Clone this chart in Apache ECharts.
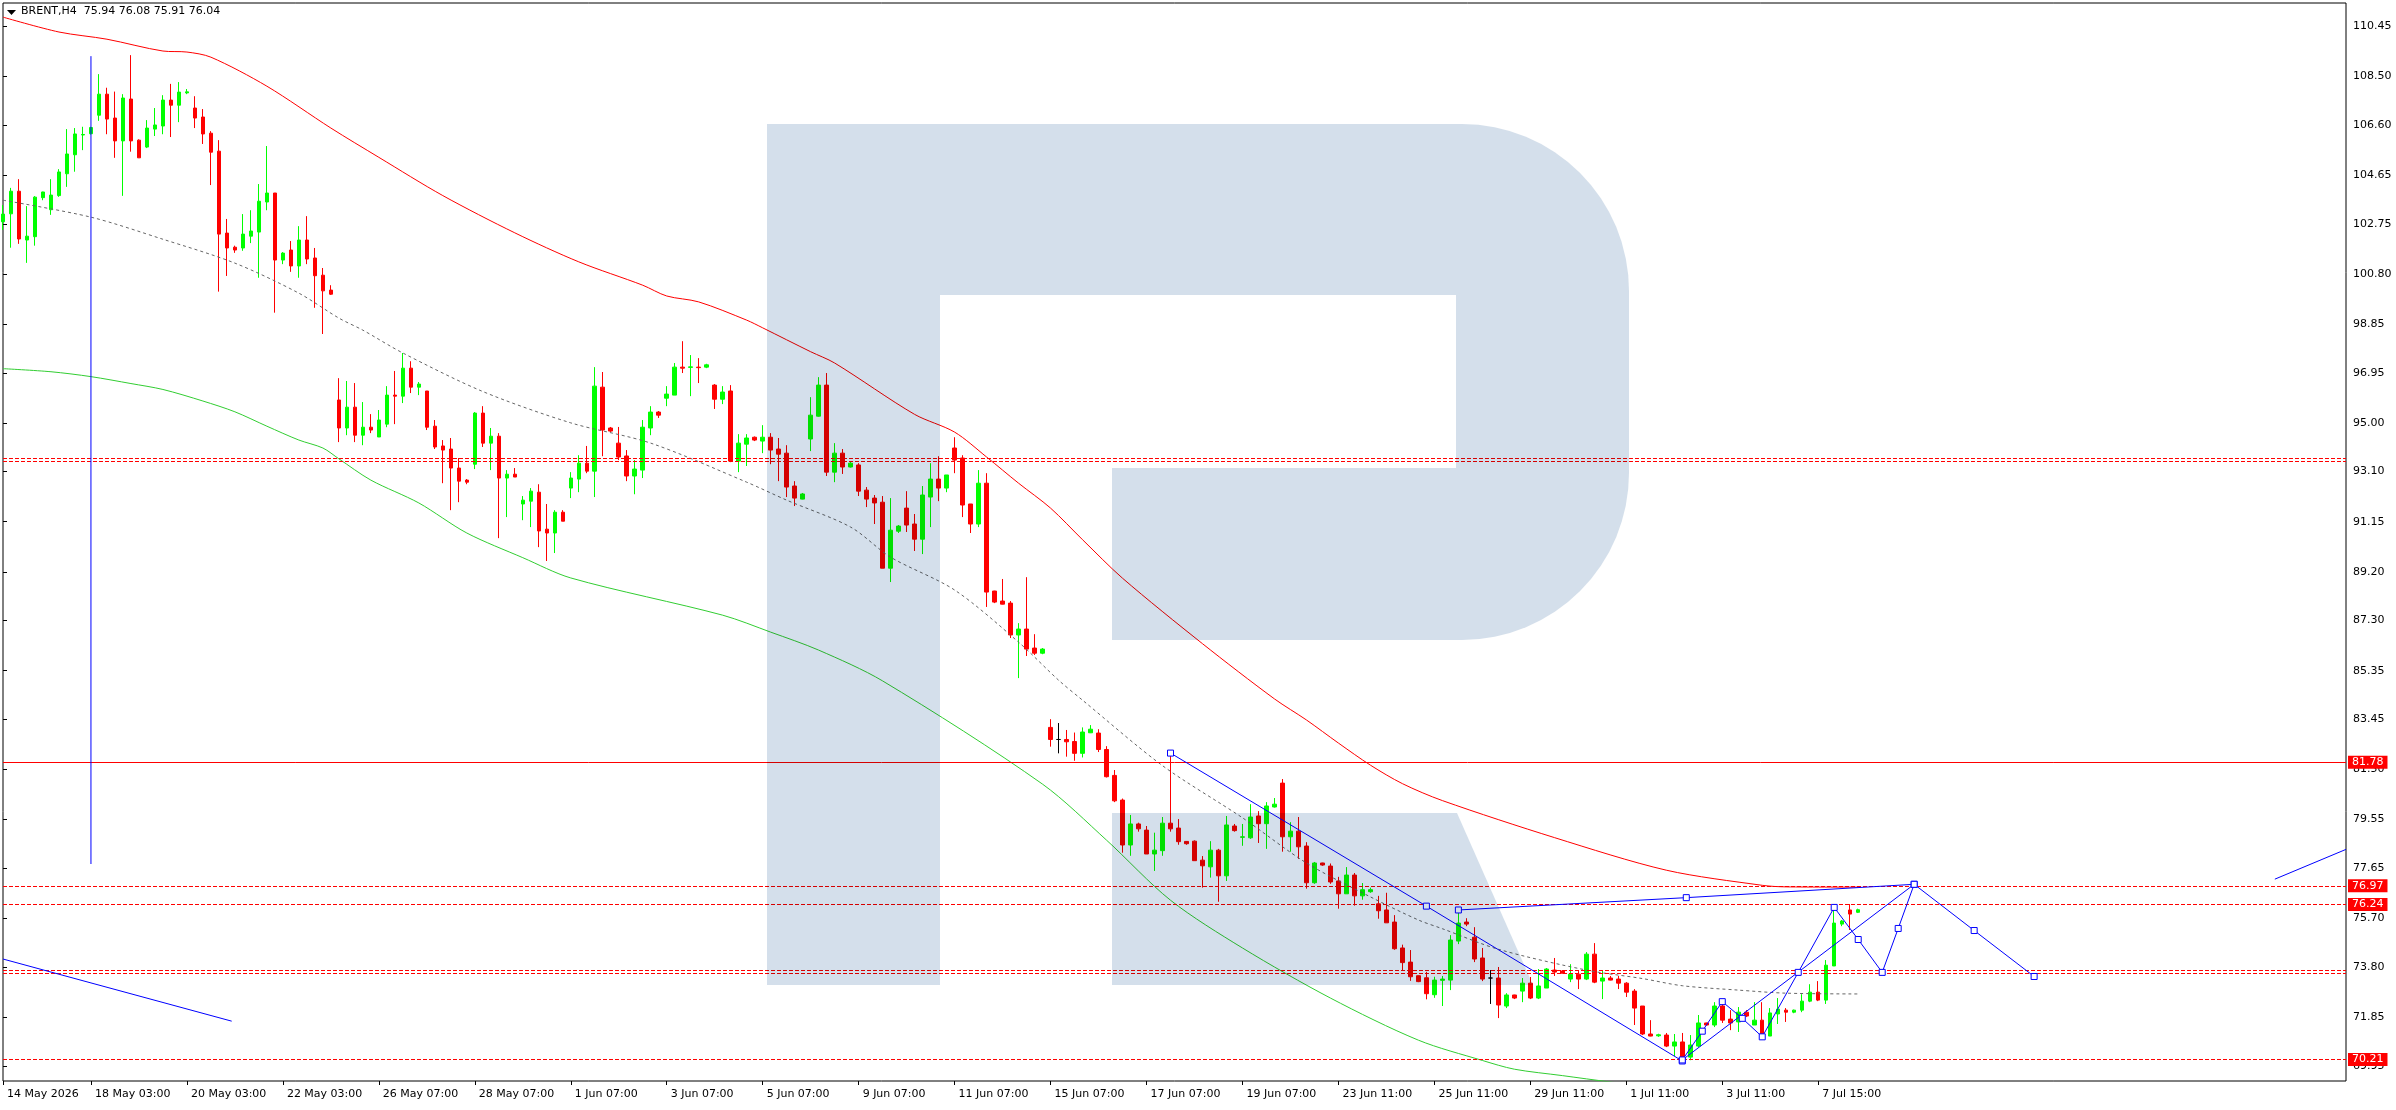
<!DOCTYPE html>
<html lang="en">
<head>
  <meta charset="UTF-8">
  <title>BRENT H4</title>
  <script src="https://cdn.jsdelivr.net/npm/echarts@6.0.0/dist/echarts.min.js"></script>
  <style>
    html, body { margin: 0; padding: 0; background: #fff; }
    #chart { width: 2396px; height: 1110px; }
  </style>
</head>
<body>
  <div id="chart"></div>
  <script>
    // H4 bars, index 0 = 14 May 07:00 ... 232 = 8 Jul 11:00
    let open = [102.83,103.14,104.02,102.12,102.25,103.77,103.30,103.85,104.70,105.44,106.21,106.26,106.98,107.80,106.87,105.98,107.61,106.01,105.74,106.44,
      106.56,107.57,107.37,107.85,107.26,106.91,106.28,105.58,102.39,101.84,101.81,102.27,102.43,103.60,103.95,101.34,101.73,101.11,102.12,101.42,
      100.75,100.17,95.89,94.80,95.61,94.52,94.83,94.45,94.95,96.08,96.04,97.13,96.39,96.24,94.87,94.10,93.98,93.24,92.77,93.39,
      95.38,94.21,94.48,92.85,93.00,91.84,91.95,92.30,90.86,90.71,91.52,92.46,92.81,93.43,93.12,96.39,94.80,94.21,93.71,92.93,
      93.16,94.80,95.42,95.96,96.08,97.17,97.16,97.17,97.17,96.47,95.92,96.24,93.51,94.17,94.44,94.29,94.44,93.98,93.82,92.54,
      92.03,94.37,95.26,96.47,93.08,93.82,93.28,93.36,92.38,92.07,91.91,89.34,90.78,91.68,91.06,90.47,92.11,92.81,92.46,94.02,
      93.63,91.84,91.06,92.65,88.45,88.06,87.98,86.74,86.97,86.23,86.03,83.14,82.67,82.67,82.59,82.13,82.93,82.92,82.28,81.27,
      80.31,78.56,79.38,79.14,78.21,78.34,79.41,79.22,78.70,78.71,77.97,77.71,78.36,77.36,79.30,78.86,78.84,79.69,79.39,80.04,
      80.97,78.88,79.10,78.52,77.09,77.86,77.74,77.16,76.66,77.39,76.58,76.74,76.27,76.03,75.56,74.55,74.00,73.47,73.39,72.73,
      73.29,73.30,74.82,75.56,74.97,74.16,73.38,73.38,72.29,72.72,72.87,73.18,72.60,72.99,73.69,73.65,73.34,73.53,73.34,74.31,
      73.26,73.38,73.34,73.18,72.87,72.29,71.20,71.13,71.16,70.73,70.89,70.30,70.73,71.63,71.55,72.29,71.78,71.67,72.05,71.55,
      71.74,71.12,71.98,72.13,72.05,72.13,72.48,72.83,72.52,73.85,75.48,76.03,75.94];
    let high = [103.48,104.15,104.49,103.44,103.83,104.00,104.49,104.88,106.44,106.48,106.53,106.53,108.58,108.05,107.90,107.80,109.32,106.04,106.79,107.26,
      107.76,108.20,108.27,108.00,107.72,107.22,106.36,106.01,102.94,101.90,103.13,103.28,104.30,105.78,103.95,101.65,102.08,102.66,103.05,101.81,
      101.03,100.36,96.74,96.63,96.55,95.81,95.34,95.50,96.43,97.02,97.72,97.40,96.59,96.24,95.11,94.33,94.41,93.63,92.81,95.42,
      95.65,94.80,94.60,93.16,93.24,92.15,92.46,92.61,91.84,91.60,91.60,93.08,93.74,94.10,97.17,96.98,94.84,94.84,93.94,93.55,
      95.11,95.65,95.46,96.43,97.33,98.18,97.64,97.52,97.30,96.51,96.43,96.47,94.56,94.56,94.47,94.91,94.60,94.41,94.13,92.73,
      92.27,96.00,96.78,96.94,94.21,93.98,93.48,93.43,92.50,92.19,92.15,92.07,91.02,92.34,91.45,92.54,93.43,93.70,92.97,94.44,
      93.74,91.84,93.16,93.04,88.46,88.92,88.06,87.20,88.99,86.77,86.23,83.46,83.31,83.04,82.94,83.14,83.23,83.07,82.41,81.48,
      80.37,79.73,79.43,79.30,79.04,79.65,82.13,79.57,78.71,78.74,78.13,78.71,78.41,79.69,79.38,79.38,80.15,79.88,80.23,80.39,
      81.13,79.45,79.65,78.67,77.90,77.87,77.84,77.32,77.70,77.47,77.08,76.90,76.58,76.70,75.83,74.68,74.47,73.48,73.62,73.43,
      73.46,75.05,76.03,75.71,75.36,74.55,73.69,73.81,72.79,72.73,73.38,73.42,73.73,73.77,74.16,73.69,73.92,73.65,74.39,74.74,
      73.69,73.46,73.46,73.22,72.95,72.29,71.74,71.21,71.24,71.20,71.24,71.16,71.94,71.64,72.44,72.44,72.13,72.25,72.13,72.44,
      72.44,72.21,72.60,72.21,72.15,72.75,73.14,73.26,74.08,76.03,75.64,76.26,76.08];
    let low = [102.51,101.82,101.97,101.23,101.90,103.67,103.10,103.80,104.19,104.78,105.62,106.23,106.76,106.24,105.32,103.84,105.56,105.32,105.70,106.17,
      106.24,106.13,106.71,107.80,106.48,105.86,104.26,100.11,100.72,101.62,101.70,102.00,100.65,103.28,99.29,101.18,100.88,100.65,101.18,99.48,
      98.46,99.98,94.25,94.52,94.25,94.13,94.60,94.45,94.83,94.95,95.77,96.16,96.08,94.72,93.98,92.65,91.60,91.91,92.61,93.20,
      94.06,93.16,90.51,91.33,92.89,91.21,90.94,90.16,89.62,89.93,91.17,92.07,92.30,93.04,92.11,93.70,94.64,93.55,92.73,92.22,
      92.85,94.52,95.19,95.65,96.08,96.94,96.04,96.55,97.13,95.54,95.73,93.47,93.08,93.32,94.29,93.82,93.39,92.73,92.11,91.76,
      92.02,93.90,95.24,92.93,92.69,93.01,93.26,92.15,91.72,91.06,89.34,88.80,90.71,90.75,90.01,89.89,90.94,91.95,92.30,93.04,
      91.33,90.71,90.94,87.83,87.98,87.93,86.62,85.06,85.92,85.96,85.99,82.39,82.13,82.00,81.84,81.97,82.92,82.18,81.19,80.23,
      78.26,78.14,79.08,78.21,77.55,78.14,79.08,78.57,78.57,77.95,76.90,77.29,76.35,77.16,79.08,78.53,78.80,78.64,78.41,80.02,
      78.30,78.30,78.02,76.86,77.05,77.75,77.05,76.08,76.66,76.20,76.43,76.70,75.69,75.53,74.48,73.66,73.27,73.22,72.55,72.61,
      72.29,72.91,74.70,75.40,74.00,73.26,72.37,71.82,72.21,72.56,72.44,72.56,72.56,72.99,73.46,73.56,73.22,72.95,73.30,73.18,
      72.56,73.29,72.95,72.64,71.55,71.16,71.11,71.09,70.69,70.34,70.22,70.18,70.69,71.53,71.47,71.63,71.35,71.28,71.86,71.55,
      71.20,71.12,71.59,71.67,72.01,72.05,72.44,72.48,72.37,73.85,75.40,75.25,75.91];
    let close = [103.13,104.02,102.16,102.27,103.79,103.99,103.87,104.77,105.47,106.25,106.23,106.50,107.80,106.83,105.98,107.65,105.98,105.32,106.48,106.60,
      107.57,107.37,107.88,107.89,106.87,106.25,105.54,102.35,101.81,101.73,102.35,102.47,103.63,103.95,101.34,101.61,101.11,102.12,101.38,100.73,
      100.14,100.01,94.80,95.61,94.52,94.83,94.72,95.11,96.08,96.04,97.13,96.39,96.51,94.83,94.06,93.94,93.24,92.73,92.69,95.38,
      94.21,94.48,92.85,93.00,92.89,91.99,92.34,90.79,90.71,91.52,91.17,92.85,93.43,93.12,96.43,94.72,94.68,93.67,92.93,93.20,
      94.83,95.42,95.30,96.12,97.17,97.13,97.18,97.15,97.26,95.92,96.20,93.51,94.21,94.41,94.33,94.44,93.94,93.78,92.50,92.07,
      92.23,95.30,96.47,93.08,93.82,93.28,93.43,92.34,92.03,91.88,89.34,90.82,90.98,91.02,90.47,92.19,92.81,92.46,92.97,93.55,
      91.80,91.06,92.65,88.41,88.02,87.94,86.74,86.97,86.19,86.03,86.19,82.67,82.67,82.58,82.13,82.96,83.07,82.28,81.22,80.28,
      78.56,79.38,79.19,78.21,78.36,79.41,79.19,78.69,78.61,77.95,77.75,78.36,77.36,79.34,79.12,78.88,79.65,79.39,80.08,80.15,
      78.88,79.10,78.49,77.09,77.86,77.78,77.12,76.66,77.39,76.58,76.82,76.82,76.00,75.53,74.52,73.98,73.43,73.24,72.77,73.30,
      73.34,74.86,75.52,75.48,74.12,73.34,73.38,72.33,72.72,72.60,73.18,72.60,73.07,73.73,73.61,73.57,73.53,73.34,74.31,73.22,
      73.38,73.30,73.18,72.83,72.21,71.20,71.12,71.17,70.73,70.89,70.30,70.77,71.63,71.55,72.29,71.74,71.63,72.05,71.90,71.74,
      71.20,72.02,72.17,72.05,72.13,72.48,72.83,72.52,73.88,75.52,75.60,75.87,76.04];

    // moving averages, read as [bar, price]
    let redMA = [[0,110.80],[7,110.22],[13,109.94],[20,109.48],[23,109.44],[26,109.24],[33,108.11],[41,106.48],[47,105.34],[55,103.85],
      [64,102.40],[72,101.27],[80,100.36],[83,99.94],[87,99.71],[93,99.00],[95,98.70],[101,97.77],[104,97.33],[114,95.33],
      [119,94.64],[123,93.67],[127,92.65],[131,91.68],[135,90.45],[140,88.95],[150,86.40],[159,84.25],[163,83.43],[167,82.53],
      [171,81.67],[175,80.95],[180,80.29],[194,78.85],[208,77.58],[220,76.99],[223,76.93],[232,76.92]];
    let greenMA = [[0,97.11],[6,96.99],[11,96.80],[16,96.53],[20,96.30],[25,95.85],[29,95.43],[33,94.87],[37,94.33],[40,94.02],
      [42,93.60],[46,92.77],[52,91.88],[58,90.71],[65,89.75],[71,88.96],[90,87.51],[96,86.85],[102,86.15],[110,84.95],
      [130,80.93],[138,78.75],[146,76.41],[155,74.55],[166,72.60],[177,70.96],[185,70.17],[189,69.83],[195,69.58],[201,69.33],[207,69.10]];
    let grayMA = [[0,103.67],[11,103.01],[20,102.15],[29,101.22],[37,100.05],[42,99.08],[45,98.61],[50,97.72],[60,96.22],[71,95.00],
      [81,94.21],[93,92.69],[98,91.99],[106,90.94],[111,89.77],[119,88.49],[127,86.46],[132,84.98],[135,84.20],[145,81.65],
      [155,79.62],[163,77.86],[171,76.54],[177,75.64],[180,75.30],[187,74.50],[198,73.69],[205,73.36],[210,73.08],[217,72.91],
      [223,72.79],[232,72.76]];

    // drawn objects
    let vLine = [[11,77.82],[11,109.28]];
    let leftLine = [[0,74.12],[28.6,71.70]];
    let downTrend = [[146,82.14],[178,76.18],[210,70.15]];
    let upperLine = [[182,76.03],[210.5,76.51],[239,77.03]];
    let zigzag = [[210,70.19],[212.5,71.31],[215,72.46],[217.5,71.81],[220,71.09],[224.5,73.60],[229,76.13],[232,74.88],
      [235,73.60],[237,75.31],[239,77.03],[246.5,75.23],[254,73.44]];
    let diagLine = [[210,70.19],[239,77.03]];
    let rightLine = [[284.1,77.23],[293,78.39]];

    let levelPrices = [93.60, 81.78, 76.97, 76.24, 73.63, 70.21];
    let levelKinds = ['double', 'solid', 'dot', 'dot', 'double', 'dot'];
    let lastPrice = 76.04;

    let tickBars = [0, 11, 23, 35, 47, 59, 71, 83, 95, 107, 119, 131, 143, 155, 167, 179, 191, 203, 215, 227];
    let tickLabels = ['14 May 2026', '18 May 03:00', '20 May 03:00', '22 May 03:00', '26 May 07:00', '28 May 07:00', '1 Jun 07:00',
      '3 Jun 07:00', '5 Jun 07:00', '9 Jun 07:00', '11 Jun 07:00', '15 Jun 07:00', '17 Jun 07:00', '19 Jun 07:00', '23 Jun 11:00',
      '25 Jun 11:00', '29 Jun 11:00', '1 Jul 11:00', '3 Jul 11:00', '7 Jul 15:00'];
    let yTicks = [110.45, 108.50, 106.60, 104.65, 102.75, 100.80, 98.85, 96.95, 95.00, 93.10, 91.15, 89.20, 87.30, 85.35, 83.45,
      81.50, 79.55, 77.65, 75.70, 73.80, 71.85, 69.95];
  </script>
  <script>
    let font = 'DejaVu Sans';
    let blue = '#0000ff';
    let logoFill = { fill: '#d4dfeb', blend: 'multiply' };

    let candleData = open.map((o, i) => {
      let item = [i, o, close[i], low[i], high[i]];
      if (o === close[i]) {
        return { value: item, itemStyle: { color: '#000', color0: '#000', borderColor: '#000', borderColor0: '#000' } };
      }
      return item;
    });

    function levelLabel(bg) {
      return {
        show: true, position: 'end', distance: 2,
        formatter: p => p.value.toFixed(2),
        backgroundColor: bg, color: '#fff', fontFamily: font, fontSize: 11,
        lineHeight: 12, padding: [1, 4, 0, 4]
      };
    }

    let marks = [];
    // current price tag (hidden mostly behind 76.24)
    marks.push({ yAxis: lastPrice, lineStyle: { opacity: 0 }, label: levelLabel('#000') });
    levelPrices.forEach((p, i) => {
      let kind = levelKinds[i];
      let style = { color: '#ff0000', width: 1, type: kind === 'solid' ? 'solid' : [4, 2] };
      if (kind === 'double') {
        marks.push({ yAxis: p + 0.04, lineStyle: style, label: { show: false } });
        marks.push({ yAxis: p - 0.08, lineStyle: style, label: { show: false } });
        marks.push({ yAxis: p, lineStyle: { opacity: 0 }, label: levelLabel('#ff0000') });
      } else {
        marks.push({ yAxis: p, lineStyle: style, label: levelLabel('#ff0000') });
      }
    });

    function blueLine(data, squares) {
      return {
        type: 'line', data: data, clip: true, silent: true,
        symbol: squares ? 'rect' : 'none', symbolSize: 6, showAllSymbol: true,
        lineStyle: { color: blue, width: 1 },
        itemStyle: { color: '#fff', borderColor: blue, borderWidth: 1 },
        z: 5
      };
    }

    let chart = echarts.init(document.getElementById('chart'));
    let option = {
      backgroundColor: '#fff',
      animation: false,
      grid: { left: 3, right: 50, top: 3, bottom: 29, show: true, borderColor: '#000', borderWidth: 1, backgroundColor: 'transparent' },
      xAxis: {
        type: 'value', min: 0, max: 293,
        axisLine: { show: false },
        splitLine: { show: false },
        axisTick: { show: true, customValues: tickBars, length: 4, lineStyle: { color: '#000' } },
        axisLabel: {
          customValues: tickBars,
          formatter: v => tickLabels[tickBars.indexOf(v)],
          align: 'left', padding: [0, 0, 0, 4], margin: 8,
          color: '#000', fontFamily: font, fontSize: 11
        }
      },
      yAxis: {
        type: 'value', position: 'right', min: 69.37, max: 111.35, scale: true,
        axisLine: { show: false },
        splitLine: { show: false },
        axisTick: { show: true, customValues: yTicks, length: 4, lineStyle: { color: '#000' } },
        axisLabel: {
          customValues: yTicks,
          formatter: v => v.toFixed(2),
          margin: 7, color: '#000', fontFamily: font, fontSize: 11
        }
      },
      graphic: [
        // logo watermark, multiplied over the chart
        { type: 'rect', z: 100, silent: true, shape: { x: 767, y: 124, width: 173, height: 861 }, style: logoFill },
        { type: 'rect', z: 100, silent: true, shape: { x: 940, y: 124, width: 516, height: 171 }, style: logoFill },
        { type: 'rect', z: 100, silent: true, shape: { x: 1456, y: 124, width: 173, height: 516, r: [0, 167, 167, 0] }, style: logoFill },
        { type: 'rect', z: 100, silent: true, shape: { x: 1112, y: 468, width: 344, height: 172 }, style: logoFill },
        { type: 'polygon', z: 100, silent: true, shape: { points: [[1112, 813], [1457, 813], [1533, 985], [1112, 985]] }, style: logoFill },
        {
          type: 'polygon', z: 110, silent: true,
          shape: { points: [[7, 10], [16, 10], [11.5, 15]] },
          style: { fill: '#000' }
        },
        {
          type: 'text', z: 110, x: 21, y: 6, silent: true,
          style: {
            text: 'BRENT,H4  ' + [open, high, low, close].map(a => a[a.length - 1].toFixed(2)).join(' '),
            fill: '#000', font: '11px "DejaVu Sans"'
          }
        }
      ],
      series: [
        {
          type: 'candlestick', data: candleData, barWidth: 4, clip: true, silent: true,
          itemStyle: { color: '#00ff00', color0: '#ff0000', borderColor: '#00ff00', borderColor0: '#ff0000', borderWidth: 1 }
        },
        {
          type: 'line', data: grayMA, symbol: 'none', smooth: 0.3, clip: true, silent: true,
          lineStyle: { color: '#666666', width: 1, type: [3, 3] },
          markLine: { symbol: ['none', 'none'], silent: true, animation: false, data: marks }
        },
        {
          type: 'line', data: redMA, symbol: 'none', smooth: 0.3, clip: true, silent: true,
          lineStyle: { color: '#ff0000', width: 1 }
        },
        {
          type: 'line', data: greenMA, symbol: 'none', smooth: 0.3, clip: true, silent: true,
          lineStyle: { color: '#32cd32', width: 1 }
        },
        blueLine(vLine, false),
        blueLine(leftLine, false),
        blueLine(rightLine, false),
        blueLine(diagLine, false),
        blueLine(downTrend, true),
        blueLine(upperLine, true),
        blueLine(zigzag, true)
      ]
    };
    chart.setOption(option);
  </script>
</body>
</html>
